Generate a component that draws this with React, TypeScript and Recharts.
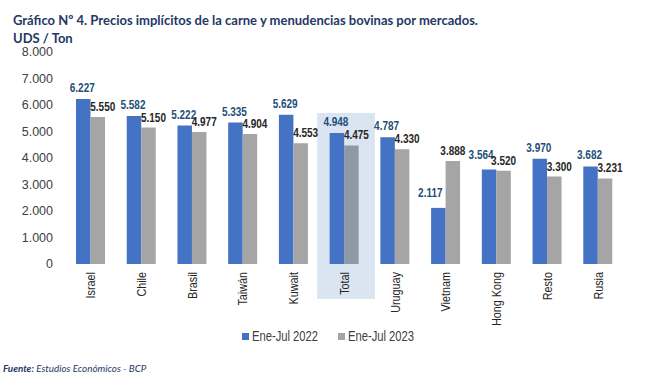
import { Bar, BarChart, Cell, LabelList, Legend, ReferenceArea, XAxis, YAxis } from "recharts";

// datos (USD / Ton)
const CATEGORIES = ["Israel", "Chile", "Brasil", "Taiwán", "Kuwait", "Total", "Uruguay", "Vietnam", "Hong Kong", "Resto", "Rusia"];
const ENE_JUL_2022 = [6227, 5582, 5222, 5335, 5629, 4948, 4787, 2117, 3564, 3970, 3682];
const ENE_JUL_2023 = [5550, 5150, 4977, 4904, 4553, 4475, 4330, 3888, 3520, 3300, 3231];
const Y_TICKS = [0, 1000, 2000, 3000, 4000, 5000, 6000, 7000, 8000];
const SERIES = ["Ene-Jul 2022", "Ene-Jul 2023"];
const HIGHLIGHT = "Total";

const BLUE = "#4472C4";
const GRAY = "#A5A5A5";
const GRAY_HL = "#8E99A6";
const NAVY = "#1F3864";
const SANS = "'Liberation Sans', Arial, sans-serif";
// no hay Arial Narrow: se comprime Liberation Sans en horizontal
const SQUEEZE = 0.8;

const data = CATEGORIES.map((name, i) => ({
  name,
  y2022: ENE_JUL_2022[i],
  y2023: ENE_JUL_2023[i],
}));

// 1000 -> "1.000"
const fmt = (v: number) => String(Math.round(v)).replace(/\B(?=(\d{3})+(?!\d))/g, ".");

const XTick = ({ x, y, payload }: any) => (
  <g transform={`translate(${x},${y}) rotate(-90) scale(${SQUEEZE},1)`}>
    <text textAnchor="end" dy="0.36em" fontFamily={SANS} fontSize={13.5} fill="#262626">
      {payload.value}
    </text>
  </g>
);

const labelText = (cx: number, y: number, color: string, value: number) => (
  <g transform={`translate(${cx},${y}) scale(${SQUEEZE},1)`}>
    <text textAnchor="middle" fontFamily={SANS} fontWeight="bold" fontSize={12.5} fill={color}>
      {fmt(value)}
    </text>
  </g>
);

// etiqueta azul: se corre a la izquierda cuando la gris queda a la misma altura o más arriba
const blueLabel = (p: any) => {
  const d = data[p.index];
  const clash = d && d.y2023 > d.y2022 - 100;
  const cx = Number(p.x) + Number(p.width) / 2 + (clash ? -8 : -1);
  return labelText(cx, Number(p.y) - (clash ? 11 : 7), "#1F4E79", Number(p.value));
};

const grayLabel = (p: any) => {
  const d = data[p.index];
  const clash = d && d.y2023 > d.y2022 - 100;
  const cx = Number(p.x) + Number(p.width) / 2 + (clash ? 0 : 5);
  return labelText(cx, Number(p.y) - 6, "#262626", Number(p.value));
};

const LegendBox = () => (
  <div style={{ display: "flex", justifyContent: "center", fontFamily: SANS, fontSize: 14, color: "#404040", lineHeight: "18px" }}>
    {SERIES.map((s, i) => (
      <span key={s} style={{ display: "flex", alignItems: "center", width: i === 0 ? 96 : 75 }}>
        <span style={{ width: 7, height: 7, background: i === 0 ? BLUE : GRAY, marginRight: 3, flex: "none" }} />
        <span style={{ display: "inline-block", transform: `scaleX(${SQUEEZE})`, transformOrigin: "left center", whiteSpace: "nowrap" }}>
          {s}
        </span>
      </span>
    ))}
  </div>
);

export default function App() {
  return (
    <div style={{ position: "absolute", left: 0, top: 0, width: 654, height: 383, background: "#fff", fontFamily: "Lato, sans-serif" }}>
      <div style={{ position: "absolute", left: 13, top: 11, fontWeight: 700, fontSize: 13, color: NAVY, whiteSpace: "nowrap", lineHeight: "18px" }}>
        Gráfico Nº 4. Precios implícitos de la carne y menudencias bovinas por mercados.
        <br />
        UDS / Ton
      </div>
      <BarChart
        width={654}
        height={383}
        data={data}
        margin={{ top: 52, right: 31, left: 5, bottom: 49 }}
        barGap={0}
        barSize={14.5}
      >
        <ReferenceArea
          x1={HIGHLIGHT}
          x2={HIGHLIGHT}
          y1={0}
          y2={5700}
          ifOverflow="visible"
          shape={(p: any) => (
            <rect x={p.x - 1.5} y={p.y} width={p.width + 7} height={p.height + 35} fill="#DAE5F1" />
          )}
        />
        <XAxis
          dataKey="name"
          axisLine={false}
          tickLine={false}
          tickSize={0}
          tickMargin={8}
          interval={0}
          height={70}
          tick={<XTick />}
        />
        <YAxis
          width={60}
          domain={[0, 8000]}
          ticks={Y_TICKS}
          axisLine={false}
          tickLine={false}
          tickSize={0}
          tickMargin={12}
          tickFormatter={fmt}
          tick={{ fontFamily: SANS, fontSize: 12.5, fill: "#404040" }}
        />
        <Legend
          layout="horizontal"
          verticalAlign="middle"
          align="center"
          content={<LegendBox />}
          wrapperStyle={{ top: 327, left: 0, width: 654 }}
        />
        <Bar dataKey="y2022" name={SERIES[0]} fill={BLUE} isAnimationActive={false}>
          <LabelList dataKey="y2022" content={blueLabel} />
        </Bar>
        <Bar dataKey="y2023" name={SERIES[1]} fill={GRAY} isAnimationActive={false}>
          {data.map((d) => (
            <Cell key={d.name} fill={d.name === HIGHLIGHT ? GRAY_HL : GRAY} />
          ))}
          <LabelList dataKey="y2023" content={grayLabel} />
        </Bar>
      </BarChart>
      <div style={{ position: "absolute", left: 3, top: 362, fontSize: 9.8, fontStyle: "italic", color: NAVY, whiteSpace: "nowrap" }}>
        <b>Fuente:</b> Estudios Económicos - BCP
      </div>
    </div>
  );
}
